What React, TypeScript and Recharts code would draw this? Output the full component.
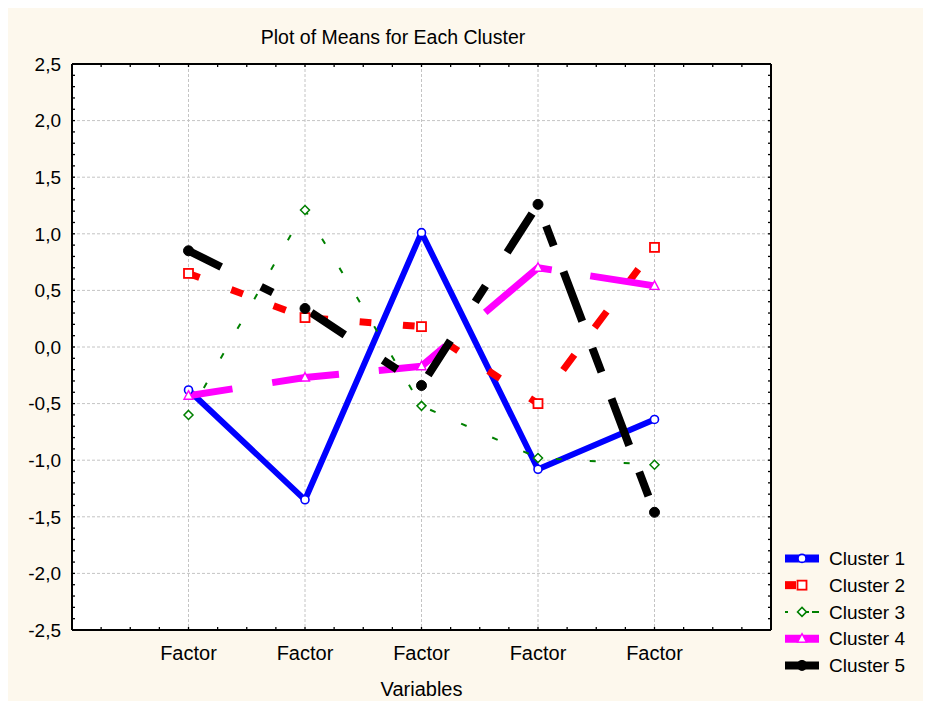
import React from 'react';
import { ComposedChart, Line, XAxis, YAxis, CartesianGrid, Legend } from 'recharts';

const categories = ['Factor', 'Factor', 'Factor', 'Factor', 'Factor'];
const cluster1 = [-0.38, -1.35, 1.01, -1.08, -0.64];
const cluster2 = [0.65, 0.26, 0.18, -0.5, 0.88];
const cluster3 = [-0.6, 1.21, -0.52, -0.98, -1.04];
const cluster4 = [-0.43, -0.27, -0.17, 0.7, 0.54];
const cluster5 = [0.85, 0.34, -0.34, 1.26, -1.46];
const seriesNames = ['Cluster 1', 'Cluster 2', 'Cluster 3', 'Cluster 4', 'Cluster 5'];
const yTicks = [-2.5, -2, -1.5, -1, -0.5, 0, 0.5, 1, 1.5, 2, 2.5];
const xTicks = [1, 2, 3, 4, 5];
const xMinorTicks = Array.from({ length: 25 }, (_, i) => i * 0.25);
const yMinorTicks = Array.from({ length: 51 }, (_, i) => Math.round((-2.5 + i * 0.1) * 10) / 10);

const data = categories.map((c, i) => ({
  x: i + 1,
  name: c,
  c1: cluster1[i],
  c2: cluster2[i],
  c3: cluster3[i],
  c4: cluster4[i],
  c5: cluster5[i],
}));

type Style = { key: string; color: string; width: number; dash?: string; offset?: number; marker: string };
const styles: Style[] = [
  { key: 'c1', color: '#0000ff', width: 6, marker: 'circle' },
  {
    key: 'c2',
    color: '#ff0000',
    width: 7,
    dash: '11.8 33.9 12.5 32.8 13 35.2 8.4 31.8 11.7 31.7 11.7 38.8 12.1 36.1 14 36.1 9.7 41.7 19 33.8 20.2 36.7 16.2 40',
    marker: 'square',
  },
  { key: 'c3', color: '#008000', width: 2, dash: '6 28', offset: 3, marker: 'diamond' },
  { key: 'c4', color: '#ff00ff', width: 7, dash: '44.5 40.2 67.3 40 74 52.4 83 39 70 40', marker: 'triangle' },
  {
    key: 'c5',
    color: '#000000',
    width: 8,
    dash: '36.5 44.5 13 43.5 40.2 45.8 16.9 41.6 41 46 19 40 46 34 21.4 27.6 53 28.7 25.6 28.4 50.1 28.2 26 40',
    marker: 'dot',
  },
];

const FONT = '"Liberation Sans", Arial, sans-serif';

function Marker({ cx, cy, kind, color }: { cx: number; cy: number; kind: string; color: string }) {
  if (cx == null || cy == null || isNaN(cx) || isNaN(cy)) return <g />;
  switch (kind) {
    case 'circle':
      return <circle cx={cx} cy={cy} r={4} fill="#fff" stroke={color} strokeWidth={1.6} />;
    case 'square':
      return <rect x={cx - 4.5} y={cy - 4.5} width={9} height={9} fill="#fff" stroke={color} strokeWidth={1.8} />;
    case 'diamond':
      return (
        <polygon
          points={`${cx},${cy - 4.5} ${cx + 4.5},${cy} ${cx},${cy + 4.5} ${cx - 4.5},${cy}`}
          fill="#fff"
          stroke={color}
          strokeWidth={1.5}
        />
      );
    case 'triangle':
      return (
        <polygon
          points={`${cx},${cy - 5} ${cx + 4.5},${cy + 3.5} ${cx - 4.5},${cy + 3.5}`}
          fill="#fff"
          stroke={color}
          strokeWidth={1.4}
        />
      );
    default:
      return <circle cx={cx} cy={cy} r={5} fill={color} stroke={color} />;
  }
}

function LegendContent() {
  const rowH = 26.75;
  return (
    <svg width={150} height={140} style={{ overflow: 'visible' }}>
      {styles.map((s, i) => {
        const cy = 13.4 + i * rowH;
        return (
          <g key={s.key}>
            <line
              x1={0}
              y1={cy}
              x2={34}
              y2={cy}
              stroke={s.color}
              strokeWidth={s.key === 'c3' ? 2 : 8}
              strokeDasharray={s.key === 'c2' ? '11 23' : s.key === 'c3' ? '3 9 0 9 3' : undefined}
            />
            <Marker cx={17} cy={cy} kind={s.marker} color={s.color} />
            <text x={44} y={cy + 6.8} fontFamily={FONT} fontSize={19} fill="#000">
              {seriesNames[i]}
            </text>
          </g>
        );
      })}
    </svg>
  );
}

const noTick = () => <g />;

export default function App() {
  return (
    <div style={{ position: 'relative', width: 923, height: 693, background: '#fdf8ed' }}>
      <div
        style={{
          position: 'absolute',
          left: 0,
          width: 770,
          top: 19,
          textAlign: 'center',
          fontFamily: FONT,
          fontSize: 19.5,
          lineHeight: '20px',
          color: '#000',
        }}
      >
        Plot of Means for Each Cluster
      </div>
      <ComposedChart
        width={923}
        height={693}
        data={data}
        margin={{ top: 56, right: 160, bottom: 1, left: 0 }}
        style={{ position: 'absolute', left: 0, top: 0 }}
      >
        <CartesianGrid fill="#ffffff" stroke="#c4c4c4" strokeDasharray="3 2" />
        <XAxis
          xAxisId={0}
          dataKey="x"
          type="number"
          domain={[0, 6]}
          allowDataOverflow
          ticks={xTicks}
          tickFormatter={(v: number) => categories[v - 1] ?? ''}
          tickLine={false}
          tickSize={0}
          tickMargin={16}
          height={70}
          axisLine={{ stroke: '#000', strokeWidth: 2 }}
          tick={{ fill: '#000', fontFamily: FONT, fontSize: 20 }}
          interval={0}
          label={{ value: 'Variables', position: 'insideBottom', offset: 4, fill: '#000', fontFamily: FONT, fontSize: 20 }}
        />
        <XAxis
          xAxisId="bm"
          dataKey="x"
          type="number"
          orientation="bottom"
          mirror
          domain={[0, 6]}
          allowDataOverflow
          ticks={xMinorTicks}
          interval={0}
          tick={noTick}
          tickSize={3}
          tickLine={{ stroke: '#000', strokeWidth: 1.3 }}
          axisLine={false}
          height={1}
        />
        <XAxis
          xAxisId="tm"
          dataKey="x"
          type="number"
          orientation="top"
          mirror
          domain={[0, 6]}
          allowDataOverflow
          ticks={xMinorTicks}
          interval={0}
          tick={noTick}
          tickSize={3}
          tickLine={{ stroke: '#000', strokeWidth: 1.3 }}
          axisLine={{ stroke: '#000', strokeWidth: 2 }}
          height={1}
        />
        <YAxis
          yAxisId={0}
          type="number"
          domain={[-2.5, 2.5]}
          allowDataOverflow
          ticks={yTicks}
          interval={0}
          width={64}
          tickLine={false}
          tickSize={0}
          tickMargin={11}
          axisLine={{ stroke: '#000', strokeWidth: 2 }}
          tick={{ fill: '#000', fontFamily: FONT, fontSize: 19 }}
          tickFormatter={(v: number) => v.toFixed(1).replace('.', ',')}
        />
        <YAxis
          yAxisId="lm"
          type="number"
          orientation="left"
          mirror
          domain={[-2.5, 2.5]}
          allowDataOverflow
          ticks={yMinorTicks}
          interval={0}
          tick={noTick}
          tickSize={3}
          tickLine={{ stroke: '#000', strokeWidth: 1.3 }}
          axisLine={false}
          width={1}
        />
        <YAxis
          yAxisId="rm"
          type="number"
          orientation="right"
          mirror
          domain={[-2.5, 2.5]}
          allowDataOverflow
          ticks={yMinorTicks}
          interval={0}
          tick={noTick}
          tickSize={3}
          tickLine={{ stroke: '#000', strokeWidth: 1.3 }}
          axisLine={{ stroke: '#000', strokeWidth: 2 }}
          width={1}
        />
        {styles.map((s, i) => (
          <Line
            key={s.key}
            xAxisId={0}
            yAxisId={0}
            type="linear"
            dataKey={s.key}
            name={seriesNames[i]}
            stroke={s.color}
            strokeWidth={s.width}
            strokeDasharray={s.dash}
            strokeDashoffset={s.offset}
            strokeLinejoin="round"
            isAnimationActive={false}
            activeDot={false}
            dot={(p: any) => <Marker key={`${s.key}-${p.index}`} cx={p.cx} cy={p.cy} kind={s.marker} color={s.color} />}
          />
        ))}
        <Legend
          layout="vertical"
          align="center"
          verticalAlign="middle"
          content={() => <LegendContent />}
          wrapperStyle={{ left: 777, top: 537, width: 146, height: 140 }}
        />
      </ComposedChart>
    </div>
  );
}
